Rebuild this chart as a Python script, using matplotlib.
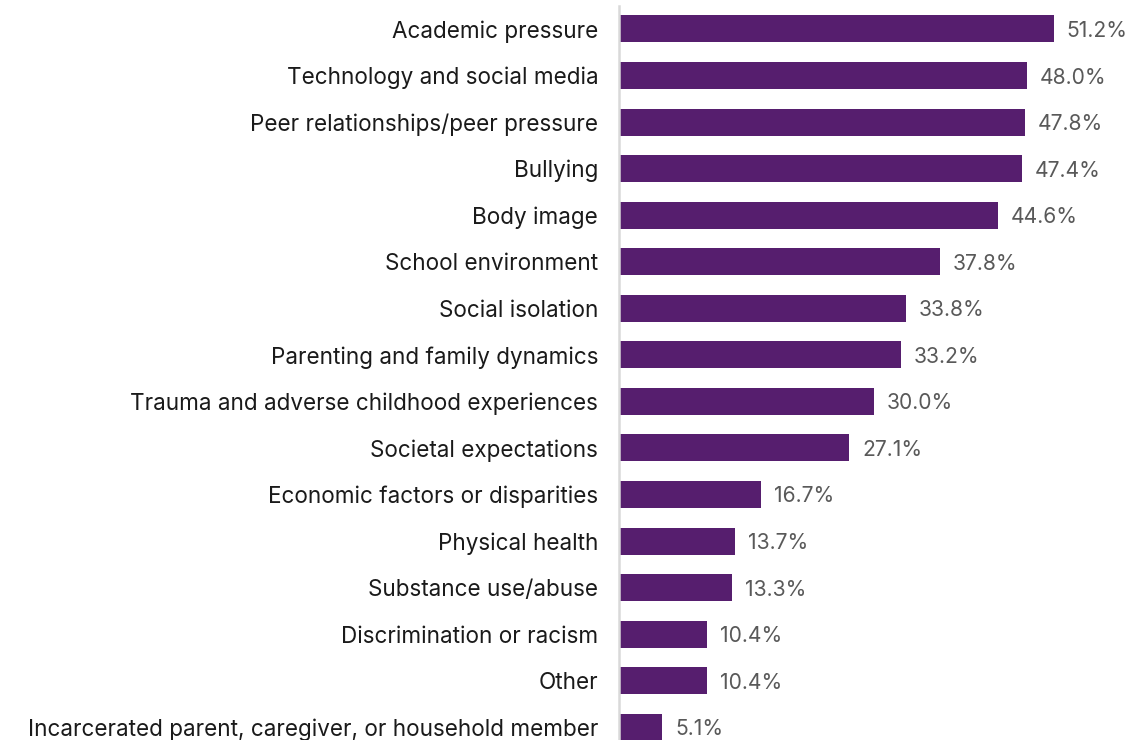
import matplotlib
matplotlib.use("Agg")
import matplotlib.pyplot as plt

# survey factors and share of respondents (%)
factors = [
    "Academic pressure",
    "Technology and social media",
    "Peer relationships/peer pressure",
    "Bullying",
    "Body image",
    "School environment",
    "Social isolation",
    "Parenting and family dynamics",
    "Trauma and adverse childhood experiences",
    "Societal expectations",
    "Economic factors or disparities",
    "Physical health",
    "Substance use/abuse",
    "Discrimination or racism",
    "Other",
    "Incarcerated parent, caregiver, or household member",
]
shares = [51.2, 48.0, 47.8, 47.4, 44.6, 37.8, 33.8, 33.2, 30.0, 27.1,
          16.7, 13.7, 13.3, 10.4, 10.4, 5.1]

plt.rcParams['font.family'] = ['Inter', 'DejaVu Sans']

fig = plt.figure(figsize=(11.3, 7.4), dpi=100)
ax = fig.add_axes([0.5478, -0.0142, 0.4522, 1.0065])

pos = list(range(len(factors)))
ax.barh(pos, shares, height=0.58, color='#561E6E')

for p, v in zip(pos, shares):
    ax.text(v + 1.5, p, f"{v:.1f}%", va='center_baseline', ha='left',
            fontsize=15.2, color='#595959')

ax.set_yticks(pos)
ax.set_yticklabels(factors, fontsize=16.2, color='#1a1a1a',
                   va='center_baseline')
ax.tick_params(axis='y', length=0, pad=15)
ax.set_xticks([])
ax.set_xlim(0, 60.15)
ax.set_ylim(15.5, -0.5)

for side in ['top', 'right', 'bottom']:
    ax.spines[side].set_visible(False)
ax.spines['left'].set_color('#d9d9d9')
ax.spines['left'].set_linewidth(1.8)

fig.savefig('out.png', dpi=100)
